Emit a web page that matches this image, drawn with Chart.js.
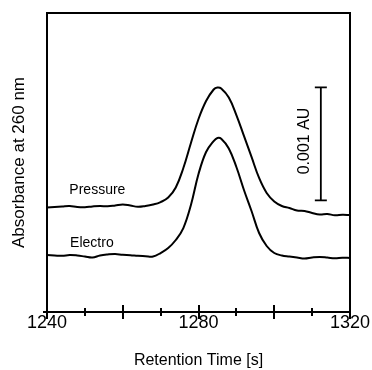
<!DOCTYPE html>
<html lang="en">
<head>
    <meta charset="UTF-8">
    <title>Retention Time</title>
    <style>
        body { margin: 0; background: #ffffff; }
        #chartBox { width: 372px; height: 370px; }
    </style>
    <script src="https://cdn.jsdelivr.net/npm/chart.js"></script>
</head>
<body>
    <div id="chartBox"><canvas id="traceChart" width="372" height="370"></canvas></div>
    <script>
        // retention time [s] and absorbance (in mAU, 1 mAU = 0.001 AU)
        var times = [1240, 1242, 1244, 1246, 1248, 1250, 1252, 1254, 1256, 1258, 1260, 1262, 1264, 1266, 1268,
            1270, 1272, 1274, 1276, 1278, 1280, 1282, 1284, 1285, 1286, 1288, 1290, 1292, 1294, 1296, 1298,
            1300, 1302, 1304, 1306, 1308, 1310, 1312, 1314, 1316, 1318, 1320];
        var pressure = [0.925, 0.929, 0.934, 0.938, 0.929, 0.927, 0.934, 0.938, 0.935, 0.942, 0.951, 0.942, 0.931, 0.938, 0.951,
            0.973, 1.013, 1.102, 1.274, 1.496, 1.708, 1.867, 1.969, 1.987, 1.978, 1.898, 1.743, 1.558, 1.372, 1.186, 1.053,
            0.978, 0.938, 0.920, 0.898, 0.894, 0.876, 0.863, 0.867, 0.856, 0.860, 0.858];
        var electro = [0.504, 0.500, 0.497, 0.504, 0.500, 0.491, 0.482, 0.500, 0.509, 0.513, 0.506, 0.503, 0.497, 0.494, 0.491,
            0.522, 0.566, 0.637, 0.743, 0.947, 1.221, 1.416, 1.513, 1.540, 1.533, 1.447, 1.283, 1.080, 0.894, 0.699, 0.584,
            0.522, 0.500, 0.491, 0.482, 0.473, 0.482, 0.487, 0.482, 0.475, 0.480, 0.478];
        var tickValues = [1240, 1250, 1260, 1270, 1280, 1290, 1300, 1310, 1320];
        var tickLabels = ["1240", "1280", "1320"];
        var seriesNames = ["Pressure", "Electro"];
        var scaleBarSize = 1; // mAU = 0.001 AU

        var FONT = "'Liberation Sans', Arial, sans-serif";

        function toPoints(ys) {
            return times.map((t, i) => ({x: t, y: ys[i]}));
        }

        var extras = {
            id: "extras",
            afterDraw(chart) {
                var ctx = chart.ctx;
                var area = chart.chartArea;
                var xs = chart.scales.x;
                var ys = chart.scales.y;
                ctx.save();
                ctx.strokeStyle = "#000";
                ctx.lineWidth = 2;
                // frame
                ctx.strokeRect(area.left, area.top, area.right - area.left, area.bottom - area.top);
                ctx.beginPath();
                ctx.moveTo(area.left - 4, area.bottom);
                ctx.lineTo(area.left, area.bottom);
                ctx.stroke();
                // ticks crossing the x axis
                tickValues.forEach(v => {
                    var px = Math.round(xs.getPixelForValue(v));
                    var len = (v % 20 === 0) ? 7 : 4;
                    ctx.beginPath();
                    ctx.moveTo(px, area.bottom - len);
                    ctx.lineTo(px, area.bottom + len);
                    ctx.stroke();
                });
                // scale bar
                var peak = Math.max(...pressure);
                var bx = xs.getPixelForValue(1312.3);
                var by1 = ys.getPixelForValue(peak);
                var by2 = ys.getPixelForValue(peak - scaleBarSize);
                ctx.lineWidth = 1.8;
                ctx.beginPath();
                ctx.moveTo(bx, by1); ctx.lineTo(bx, by2);
                ctx.moveTo(bx - 6, by1); ctx.lineTo(bx + 6, by1);
                ctx.moveTo(bx - 6, by2); ctx.lineTo(bx + 6, by2);
                ctx.stroke();
                ctx.fillStyle = "#000";
                ctx.save();
                ctx.translate(bx - 16, (by1 + by2) / 2 - 3);
                ctx.rotate(-Math.PI / 2);
                ctx.font = "16px " + FONT;
                ctx.textAlign = "center";
                ctx.textBaseline = "middle";
                ctx.fillText("0.001 AU", 0, 0);
                ctx.restore();
                // series labels
                ctx.font = "14px " + FONT;
                ctx.textAlign = "left";
                ctx.textBaseline = "middle";
                ctx.fillText(seriesNames[0], xs.getPixelForValue(1245.9), ys.getPixelForValue(1.08));
                ctx.fillText(seriesNames[1], xs.getPixelForValue(1246.1), ys.getPixelForValue(0.61));
                ctx.restore();
            }
        };

        new Chart(document.getElementById("traceChart"), {
            type: "line",
            data: {
                datasets: [
                    {label: seriesNames[0], data: toPoints(pressure)},
                    {label: seriesNames[1], data: toPoints(electro)}
                ]
            },
            options: {
                responsive: false,
                animation: false,
                events: [],
                layout: {padding: {top: 13, right: 22, left: 0, bottom: 0}},
                elements: {
                    line: {borderColor: "#000", borderWidth: 2, tension: 0.4, fill: false},
                    point: {radius: 0}
                },
                plugins: {legend: {display: false}, tooltip: {enabled: false}},
                scales: {
                    x: {
                        type: "linear",
                        min: 1240,
                        max: 1320,
                        afterFit(scale) { scale.height = 58; },
                        afterBuildTicks(scale) { scale.ticks = tickLabels.map(l => ({value: Number(l)})); },
                        grid: {display: false, drawTicks: false},
                        border: {display: false},
                        ticks: {
                            color: "#000",
                            font: {family: FONT, size: 18},
                            padding: 0,
                            maxRotation: 0,
                            autoSkip: false,
                            callback: (v) => String(v)
                        },
                        title: {
                            display: true,
                            text: "Retention Time [s]",
                            color: "#000",
                            font: {family: FONT, size: 16},
                            padding: 0
                        }
                    },
                    y: {
                        type: "linear",
                        min: 0,
                        max: 2.646,
                        afterFit(scale) { scale.width = 47; },
                        grid: {display: false, drawTicks: false},
                        border: {display: false},
                        ticks: {display: false},
                        title: {
                            display: true,
                            text: "Absorbance at 260 nm",
                            color: "#000",
                            font: {family: FONT, size: 17},
                            padding: {top: 9, bottom: 0}
                        }
                    }
                }
            },
            plugins: [extras]
        });
    </script>
</body>
</html>
